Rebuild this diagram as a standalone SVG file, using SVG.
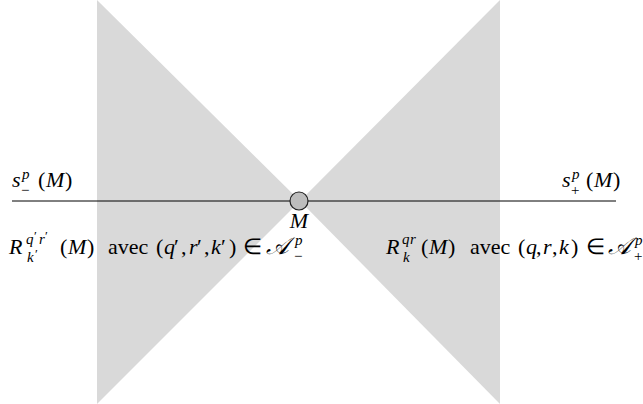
<svg xmlns="http://www.w3.org/2000/svg" width="643" height="404" viewBox="0 0 643 404">
<style>
text{font-family:'Liberation Serif','Times New Roman',serif;font-size:22px;fill:#000}
.i{font-style:italic}
.s{font-size:15px}
.pr{font-size:13px}
.cal{font-size:24px}
</style>
<rect width="643" height="404" fill="#fff"/>
<g id="cones">
<polygon points="97,0 97,404 300,201" fill="#d9d9d9"/>
<polygon points="500,0 500,404 300,201" fill="#d9d9d9"/>
</g>
<g id="connectors">
<line x1="12" y1="201" x2="616" y2="201" stroke="#000" stroke-width="1"/>
</g>
<g id="M">
<circle cx="299" cy="201" r="9" fill="#bdbdbd" stroke="#222" stroke-width="1.2"/>
<text class="i" x="299" y="228" text-anchor="middle">M</text>
</g>
<g id="sminus">
<text><tspan class="i" x="12" y="187">s</tspan><tspan class="i s" x="22" y="179">p</tspan><tspan class="s" x="21" y="195">−</tspan><tspan x="38" y="187">(</tspan><tspan class="i" x="46">M</tspan><tspan x="65">)</tspan></text>
</g>
<g id="splus">
<text><tspan class="i" x="562" y="187">s</tspan><tspan class="i s" x="572" y="179">p</tspan><tspan class="s" x="571" y="195">+</tspan><tspan x="586" y="187">(</tspan><tspan class="i" x="594">M</tspan><tspan x="613">)</tspan></text>
</g>
<g id="leftlabel">
<text><tspan class="i" x="9" y="254">R</tspan><tspan class="i s" x="26" y="244">q</tspan><tspan class="pr" x="34" y="240">′</tspan><tspan class="i s" x="39" y="244">r</tspan><tspan class="pr" x="45" y="240">′</tspan><tspan class="i s" x="27" y="262">k</tspan><tspan class="pr" x="35" y="258">′</tspan><tspan x="60" y="254">(</tspan><tspan class="i" x="68">M</tspan><tspan x="87">)</tspan><tspan x="108">avec</tspan><tspan x="156">(</tspan><tspan class="i" x="164">q</tspan><tspan x="174">′</tspan><tspan x="181">,</tspan><tspan class="i" x="189">r</tspan><tspan x="197">′</tspan><tspan x="204">,</tspan><tspan class="i" x="211">k</tspan><tspan x="221">′</tspan><tspan x="229">)</tspan><tspan x="243">∈</tspan><tspan class="i cal" x="266">𝒜</tspan><tspan class="i s" x="295" y="245">p</tspan><tspan class="s" x="294" y="261">−</tspan></text>
</g>
<g id="rightlabel">
<text><tspan class="i" x="386" y="254">R</tspan><tspan class="i s" x="402" y="244">q</tspan><tspan class="i s" x="410" y="244">r</tspan><tspan class="i s" x="403" y="262">k</tspan><tspan x="421" y="254">(</tspan><tspan class="i" x="429">M</tspan><tspan x="448">)</tspan><tspan x="470">avec</tspan><tspan x="518">(</tspan><tspan class="i" x="526">q</tspan><tspan x="536">,</tspan><tspan class="i" x="543">r</tspan><tspan x="552">,</tspan><tspan class="i" x="559">k</tspan><tspan x="571">)</tspan><tspan x="586">∈</tspan><tspan class="i cal" x="608">𝒜</tspan><tspan class="i s" x="635" y="245">p</tspan><tspan class="s" x="634" y="261">+</tspan></text>
</g>
</svg>
